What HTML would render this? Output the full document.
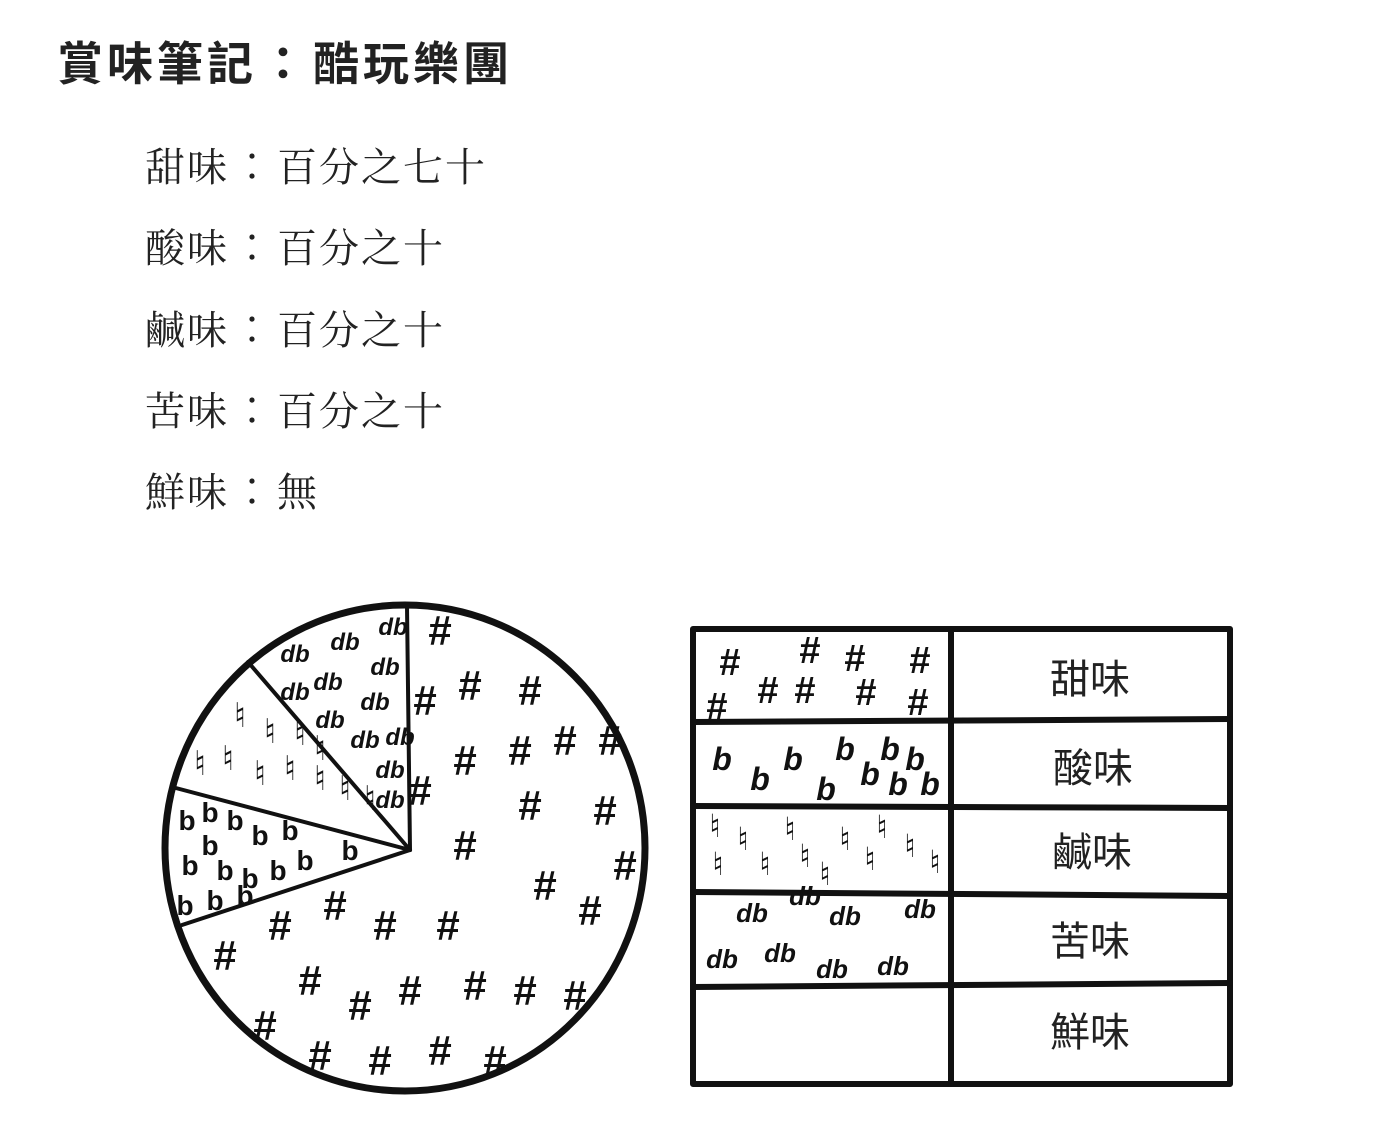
<!DOCTYPE html>
<html><head><meta charset="utf-8"><style>
html,body{margin:0;padding:0;background:#fff;}
body{width:1391px;height:1148px;overflow:hidden;position:relative;}
.t{position:absolute;left:57px;top:28px;font:bold 46px "Liberation Sans","Noto Sans CJK TC",sans-serif;color:#222;letter-spacing:4px;white-space:nowrap;}
.l{position:absolute;left:145px;font:40px "Liberation Serif","Noto Serif CJK SC",serif;color:#222;white-space:nowrap;letter-spacing:2px;}
.c{font-family:"Noto Sans CJK TC",sans-serif;font-weight:300;padding-left:3px;padding-right:3px;}
svg{position:absolute;left:0;top:0;}
</style></head><body>
<div class="t">賞味筆記<span class="c" style="font-weight:bold">：</span>酷玩樂團</div>
<div class="l" style="top:135px">甜味<span class="c">：</span>百分之七十</div>
<div class="l" style="top:216px">酸味<span class="c">：</span>百分之十</div>
<div class="l" style="top:298px">鹹味<span class="c">：</span>百分之十</div>
<div class="l" style="top:379px">苦味<span class="c">：</span>百分之十</div>
<div class="l" style="top:460px">鮮味<span class="c">：</span>無</div>
<svg width="1391" height="1148" viewBox="0 0 1391 1148">
<g fill="none" stroke="#111" stroke-linecap="round" stroke-linejoin="round">
<ellipse cx="405" cy="848" rx="240" ry="243" stroke-width="7"/>
<g stroke-width="4">
<line x1="410" y1="850" x2="407" y2="606"/>
<line x1="410" y1="850" x2="248" y2="662"/>
<line x1="410" y1="850" x2="172" y2="787"/>
<line x1="410" y1="850" x2="182" y2="925"/>
</g>
<g stroke-width="6">
<rect x="693" y="629" width="537" height="455"/>
<line x1="951" y1="629" x2="951" y2="1084"/>
<line x1="693" y1="722" x2="1230" y2="719"/>
<line x1="693" y1="806" x2="1230" y2="808"/>
<line x1="693" y1="892" x2="1230" y2="896"/>
<line x1="693" y1="987" x2="1230" y2="983"/>
</g>
</g>
<g font-family="Liberation Sans,DejaVu Sans,sans-serif" fill="#111" font-weight="bold" text-anchor="middle">
<g font-size="42">
<text x="440" y="645">#</text><text x="470" y="700">#</text><text x="530" y="705">#</text><text x="425" y="715">#</text>
<text x="465" y="775">#</text><text x="520" y="765">#</text><text x="565" y="755">#</text><text x="610" y="755">#</text>
<text x="530" y="820">#</text><text x="605" y="825">#</text><text x="420" y="805">#</text><text x="465" y="860">#</text>
<text x="545" y="900">#</text><text x="590" y="925">#</text><text x="625" y="880">#</text><text x="225" y="970">#</text>
<text x="280" y="940">#</text><text x="335" y="920">#</text><text x="385" y="940">#</text><text x="448" y="940">#</text>
<text x="310" y="995">#</text><text x="360" y="1020">#</text><text x="410" y="1005">#</text><text x="475" y="1000">#</text>
<text x="525" y="1005">#</text><text x="575" y="1010">#</text><text x="265" y="1040">#</text><text x="320" y="1070">#</text>
<text x="380" y="1075">#</text><text x="440" y="1065">#</text><text x="495" y="1075">#</text>
</g>
<g font-size="24" font-style="italic">
<text x="295" y="662">db</text><text x="345" y="650">db</text><text x="393" y="635">db</text><text x="385" y="675">db</text>
<text x="295" y="700">db</text><text x="328" y="690">db</text><text x="330" y="728">db</text><text x="375" y="710">db</text>
<text x="365" y="748">db</text><text x="400" y="745">db</text><text x="390" y="778">db</text><text x="390" y="808">db</text>
</g>
<g font-size="34" font-weight="normal" font-family="DejaVu Sans,sans-serif">
<text x="240" y="727">♮</text><text x="270" y="743">♮</text><text x="300" y="745">♮</text><text x="320" y="760">♮</text>
<text x="200" y="775">♮</text><text x="228" y="770">♮</text><text x="260" y="785">♮</text><text x="290" y="780">♮</text>
<text x="320" y="790">♮</text><text x="345" y="800">♮</text><text x="370" y="810">♮</text>
</g>
<g font-size="28">
<text x="187" y="830">b</text><text x="210" y="822">b</text><text x="235" y="830">b</text><text x="260" y="845">b</text>
<text x="290" y="840">b</text><text x="210" y="855">b</text><text x="190" y="875">b</text><text x="225" y="880">b</text>
<text x="250" y="888">b</text><text x="278" y="880">b</text><text x="305" y="870">b</text><text x="185" y="915">b</text>
<text x="215" y="910">b</text><text x="245" y="905">b</text><text x="350" y="860">b</text>
</g>
<g font-size="38">
<text x="730" y="675">#</text><text x="810" y="663">#</text><text x="855" y="671">#</text><text x="920" y="673">#</text>
<text x="768" y="703">#</text><text x="805" y="703">#</text><text x="866" y="705">#</text><text x="918" y="715">#</text><text x="717" y="719">#</text>
</g>
<g font-size="32" font-style="italic">
<text x="722" y="770">b</text><text x="760" y="790">b</text><text x="793" y="770">b</text><text x="845" y="760">b</text>
<text x="870" y="785">b</text><text x="890" y="760">b</text><text x="915" y="770">b</text><text x="930" y="795">b</text>
<text x="826" y="800">b</text><text x="898" y="795">b</text>
</g>
<g font-size="32" font-weight="normal" font-family="DejaVu Sans,sans-serif">
<text x="715" y="837">♮</text><text x="743" y="850">♮</text><text x="790" y="840">♮</text><text x="845" y="850">♮</text>
<text x="882" y="838">♮</text><text x="910" y="857">♮</text><text x="718" y="875">♮</text><text x="765" y="875">♮</text>
<text x="805" y="867">♮</text><text x="825" y="885">♮</text><text x="870" y="870">♮</text><text x="935" y="873">♮</text>
</g>
<g font-size="26" font-style="italic">
<text x="752" y="922">db</text><text x="845" y="925">db</text><text x="920" y="918">db</text><text x="805" y="905">db</text>
<text x="722" y="968">db</text><text x="780" y="962">db</text><text x="832" y="978">db</text><text x="893" y="975">db</text>
</g>
</g>
<g font-family="Liberation Sans,Noto Sans CJK TC,sans-serif" font-size="40" fill="#222" text-anchor="middle">
<text x="1090" y="693">甜味</text>
<text x="1093" y="782">酸味</text>
<text x="1092" y="866">鹹味</text>
<text x="1090" y="955">苦味</text>
<text x="1090" y="1046">鮮味</text>
</g>
</svg>
</body></html>
